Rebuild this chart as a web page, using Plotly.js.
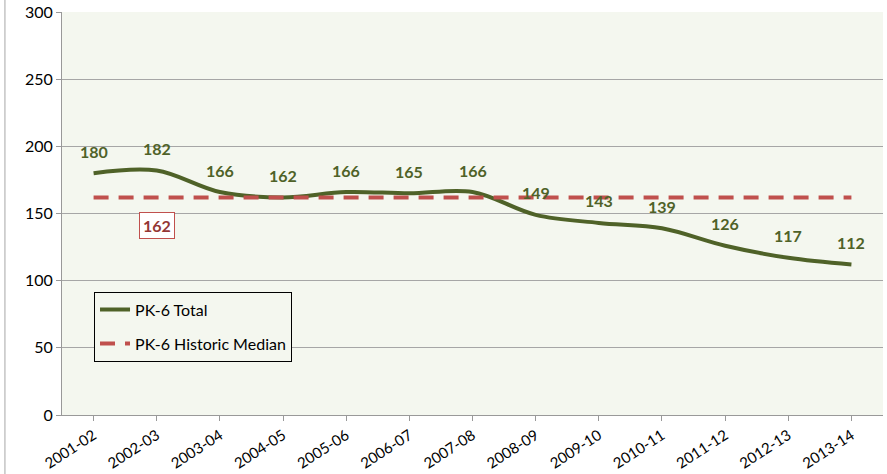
<!DOCTYPE html>
<html>
<head>
<meta charset="utf-8">
<script src="https://cdn.plot.ly/plotly-3.0.1.min.js"></script>
<style>
  html, body { margin: 0; padding: 0; background: #fff; }
  #chart { width: 887px; height: 474px; }
</style>
</head>
<body>
<div id="chart"></div>
<script>
// School years and enrollment values
const years = ['2001-02', '2002-03', '2003-04', '2004-05', '2005-06', '2006-07', '2007-08',
               '2008-09', '2009-10', '2010-11', '2011-12', '2012-13', '2013-14'];
const pk6Total = [180, 182, 166, 162, 166, 165, 166, 149, 143, 139, 126, 117, 112];
const historicMedian = 162;
const medianLine = years.map(() => historicMedian);

const olive = '#4f6228';
const red = '#c0504d';
const labelFont = 'Lato, "Open Sans", sans-serif';

const totalTrace = {
    x: years,
    y: pk6Total,
    type: 'scatter',
    mode: 'lines',
    name: 'PK-6 Total',
    legendgroup: 'a',
    line: { color: olive, width: 4, shape: 'spline', smoothing: 1 }
};

const medianTrace = {
    x: years,
    y: medianLine,
    type: 'scatter',
    mode: 'lines',
    name: 'PK-6 Historic Median',
    legendgroup: 'b',
    line: { color: red, width: 4, dash: '15px,10px' }
};

// value labels above each point
const valueLabels = years.map((yr, i) => ({
    x: yr,
    y: pk6Total[i],
    text: String(pk6Total[i]),
    showarrow: false,
    yshift: 22,
    font: { family: labelFont, size: 16, color: olive, weight: 'bold' }
}));

// boxed label for the median
valueLabels.push({
    x: years[1],
    y: historicMedian,
    text: String(historicMedian),
    showarrow: false,
    yshift: -28,
    bgcolor: '#ffffff',
    bordercolor: red,
    borderwidth: 1,
    borderpad: 3,
    font: { family: labelFont, size: 16, color: '#953735', weight: 'bold' }
});

const layout = {
    width: 887,
    height: 474,
    margin: { l: 62, r: 4, t: 12, b: 59 },
    paper_bgcolor: '#ffffff',
    plot_bgcolor: '#f4f7ef',
    font: { family: labelFont, size: 16, color: '#000' },
    showlegend: true,
    legend: {
        x: 0.039, y: 0.306, xanchor: 'left', yanchor: 'top',
        bgcolor: '#f4f7ef',
        bordercolor: '#000', borderwidth: 1,
        font: { size: 16 },
        tracegroupgap: 10
    },
    xaxis: {
        type: 'category',
        range: [-0.5, 12.5],
        tickangle: -33,
        ticks: 'outside', ticklen: 5, tickcolor: '#999',
        showline: true, linecolor: '#999',
        showgrid: false,
        tickfont: { size: 15 }
    },
    yaxis: {
        range: [0, 300],
        tickvals: [0, 50, 100, 150, 200, 250, 300],
        ticks: 'outside', ticklen: 5, tickcolor: '#999',
        showline: true, linecolor: '#999',
        gridcolor: '#a6a6a6', gridwidth: 1,
        zeroline: false,
        tickfont: { size: 16 }
    },
    annotations: valueLabels,
    shapes: [{
        type: 'line', xref: 'paper', yref: 'paper',
        x0: -0.0695, x1: -0.0695, y0: -0.2, y1: 1.05,
        line: { color: '#a6a6a6', width: 1 }
    }]
};

Plotly.newPlot('chart', [totalTrace, medianTrace], layout, { displayModeBar: false });
</script>
</body>
</html>
